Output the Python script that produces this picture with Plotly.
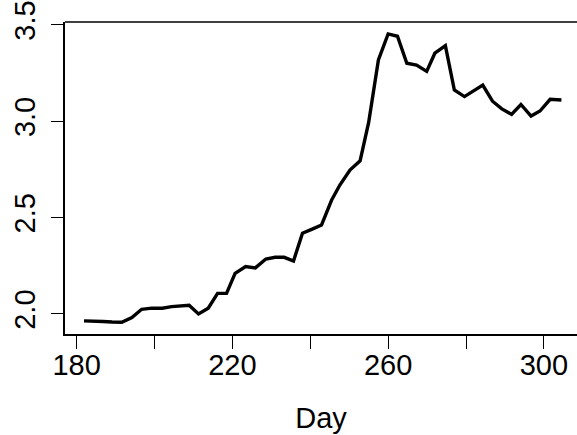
import plotly.graph_objects as go

day = [181.9, 184.3, 186.8, 189.1, 191.6, 194.2, 196.7, 199.3, 202.0, 204.4,
       206.6, 208.9, 211.3, 213.8, 216.2, 218.5, 220.7, 223.4, 225.9, 228.6,
       231.0, 233.3, 235.7, 238.0, 240.5, 242.9, 245.5, 247.6, 250.2, 252.8,
       255.0, 257.5, 260.0, 262.4, 264.8, 267.3, 269.9, 272.0, 274.7, 277.0,
       279.6, 281.9, 284.3, 286.8, 289.2, 291.7, 294.1, 296.7, 299.0, 301.6,
       304.5]
value = [1.964, 1.964, 1.961, 1.958, 1.957, 1.981, 2.024, 2.030, 2.030, 2.038,
         2.043, 2.045, 2.000, 2.030, 2.107, 2.107, 2.211, 2.246, 2.239, 2.285,
         2.294, 2.294, 2.275, 2.419, 2.440, 2.462, 2.592, 2.669, 2.747, 2.795,
         2.994, 3.318, 3.453, 3.441, 3.301, 3.291, 3.259, 3.353, 3.392, 3.162,
         3.128, 3.155, 3.188, 3.104, 3.064, 3.036, 3.087, 3.027, 3.053, 3.114,
         3.110]

x_ticks = [180, 200, 220, 240, 260, 280, 300]
x_tick_labels = ["180", "", "220", "", "260", "", "300"]
y_ticks = [2.0, 2.5, 3.0, 3.5]
y_tick_labels = ["2.0", "2.5", "3.0", "3.5"]

FONT = "Liberation Sans, Arial, sans-serif"

fig = go.Figure()
fig.add_trace(go.Scatter(x=day, y=value, mode="lines",
                         line=dict(color="black", width=3.4),
                         showlegend=False, hoverinfo="skip"))

fig.update_layout(
    width=577, height=435,
    margin=dict(l=65, r=0, t=22, b=101),
    paper_bgcolor="white", plot_bgcolor="white",
    font=dict(family=FONT, size=29, color="black"),
    xaxis=dict(
        range=[177.02, 308.5], showgrid=False, zeroline=False,
        showline=True, linecolor="black", linewidth=1.5,
        ticks="outside", ticklen=13, tickwidth=1.3, tickcolor="black",
        tickvals=x_ticks, ticktext=x_tick_labels,
        tickfont=dict(size=29), ticklabelstandoff=-9,
        title=dict(text="Day", font=dict(size=29), standoff=28),
    ),
    yaxis=dict(
        range=[1.896, 3.515], showgrid=False, zeroline=False,
        showline=True, linecolor="black", linewidth=1.5,
        ticks="outside", ticklen=12, tickwidth=1.3, tickcolor="black",
        tickvals=y_ticks, ticktext=y_tick_labels, tickangle=-90,
        tickfont=dict(size=29), ticklabelstandoff=5,
    ),
    shapes=[dict(type="line", xref="paper", yref="paper", x0=0, x1=1, y0=1, y1=1,
                 line=dict(color="black", width=1.5))],
)

fig.write_html("out.html")
